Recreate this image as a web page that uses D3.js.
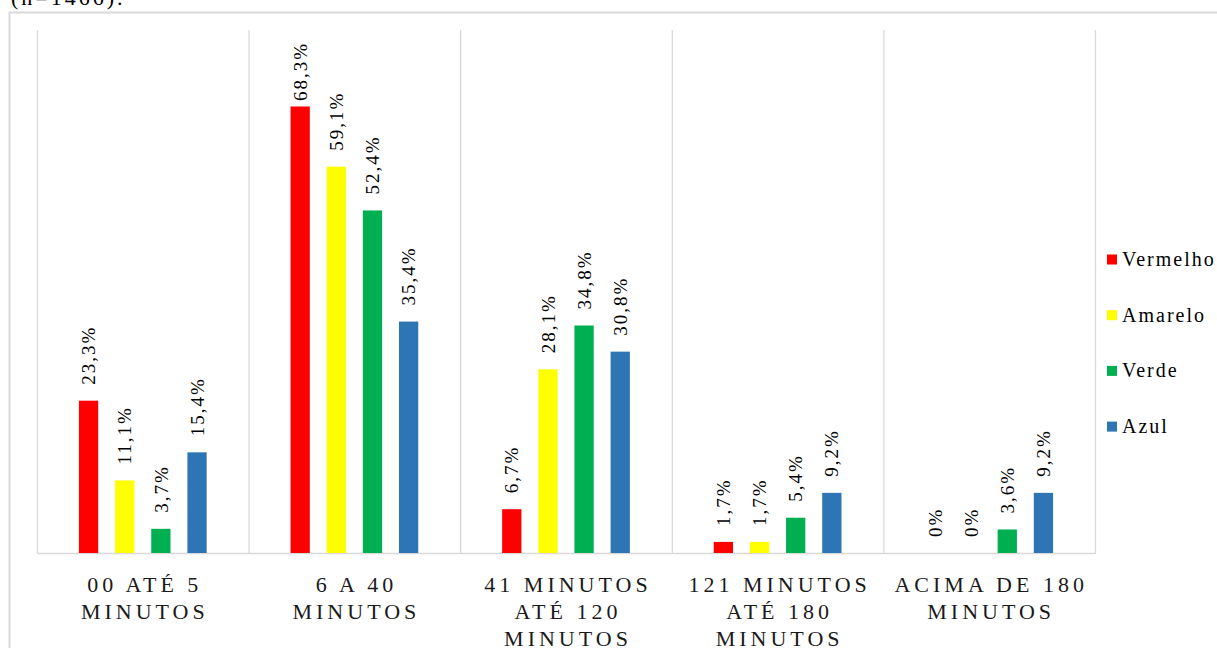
<!DOCTYPE html>
<html>
<head>
<meta charset="utf-8">
<script src="https://cdn.jsdelivr.net/npm/d3@7"></script>
<style>
  html, body { margin: 0; padding: 0; background: #fff; }
  svg { display: block; }
</style>
</head>
<body>
<svg id="chart" width="1217" height="648"></svg>
<script>
// Waiting time by risk classification (percent of patients per colour)
const categories = [
  ["00 ATÉ 5", "MINUTOS"],
  ["6 A 40", "MINUTOS"],
  ["41 MINUTOS", "ATÉ 120", "MINUTOS"],
  ["121 MINUTOS", "ATÉ 180", "MINUTOS"],
  ["ACIMA DE 180", "MINUTOS"]
];
const seriesNames = ["Vermelho", "Amarelo", "Verde", "Azul"];
const seriesColors = ["#FF0000", "#FFFF00", "#00B050", "#2E75B6"];
const vermelho = [23.3, 68.3, 6.7, 1.7, 0];
const amarelo  = [11.1, 59.1, 28.1, 1.7, 0];
const verde    = [3.7, 52.4, 34.8, 5.4, 3.6];
const azul     = [15.4, 35.4, 30.8, 9.2, 9.2];
const seriesValues = [vermelho, amarelo, verde, azul];
const yMax = 80;
const caption = "(n=1466).";

const svg = d3.select("#chart");
const plot = { left: 37, right: 1095, top: 30, bottom: 553 };
const grid = "#d9d9d9";
const FONT = "'Liberation Serif'";

// widen a text's spacing by a fixed amount between characters
function spread(sel, gap) {
  sel.each(function() {
    const n = this.textContent.length;
    const len = this.getComputedTextLength();
    d3.select(this).attr("textLength", len + gap * (n - 1)).attr("lengthAdjust", "spacing");
  });
}

// caption line above the frame (partly outside the page)
svg.append("text")
  .attr("x", 11).attr("y", 5)
  .style("font-family", FONT).style("font-size", "22px")
  .attr("fill", "#000")
  .text(caption)
  .call(spread, 3);

// outer frame
svg.append("path")
  .attr("d", d3.line()([[9.5, 648], [9.5, 12.5], [1217, 12.5]]))
  .attr("fill", "none").attr("stroke", grid).attr("stroke-width", 2);

const catKeys = categories.map((c, i) => i);
const x0 = d3.scaleBand().domain(catKeys).range([plot.left, plot.right]).padding(0);
const x1 = d3.scaleBand().domain(seriesNames).range([0, x0.bandwidth()])
  .paddingInner(0.467).paddingOuter(1.16);
const y = d3.scaleLinear().domain([0, yMax]).range([plot.bottom, plot.top]);

// category separators
const seps = catKeys.map(k => x0(k)).concat([plot.right]);
svg.append("g").selectAll("line").data(seps).join("line")
  .attr("x1", d => d + 0.5).attr("x2", d => d + 0.5)
  .attr("y1", plot.top).attr("y2", plot.bottom)
  .attr("stroke", grid).attr("stroke-width", 1.3);

// baseline
svg.append("line")
  .attr("x1", plot.left).attr("x2", plot.right + 1)
  .attr("y1", plot.bottom + 0.5).attr("y2", plot.bottom + 0.5)
  .attr("stroke", grid).attr("stroke-width", 1.5);

// bars
const bars = [];
seriesNames.forEach((s, si) => {
  seriesValues[si].forEach((v, ci) => bars.push({ s, si, ci, v }));
});

svg.append("g").selectAll("rect").data(bars).join("rect")
  .attr("x", d => x0(d.ci) + x1(d.s))
  .attr("width", x1.bandwidth())
  .attr("y", d => y(d.v))
  .attr("height", d => y(0) - y(d.v))
  .attr("fill", d => seriesColors[d.si]);

// rotated value labels
const fmt = v => (v === 0 ? "0" : d3.format(".1f")(v).replace(".", ",")) + "%";
svg.append("g").selectAll("text").data(bars).join("text")
  .style("font-family", FONT).style("font-size", "19px")
  .attr("fill", "#000")
  .attr("text-anchor", "start")
  .attr("dy", "0.35em")
  .text(d => fmt(d.v))
  .call(spread, 2)
  .each(function(d) {
    const len = +this.getAttribute("textLength");
    const cx = x0(d.ci) + x1(d.s) + x1.bandwidth() / 2;
    const start = Math.max(y(d.v) - 16, plot.top + 14 + len);
    d3.select(this).attr("transform", `translate(${cx},${start}) rotate(-90)`);
  });

// category labels
const gCat = svg.append("g");
categories.forEach((lines, ci) => {
  const cx = x0(ci) + x0.bandwidth() / 2;
  lines.forEach((ln, li) => {
    gCat.append("text")
      .attr("x", cx)
      .attr("y", 592 + li * 27)
      .attr("text-anchor", "middle")
      .style("font-family", FONT).style("font-size", "22px")
      .attr("fill", "#1a1a1a")
      .text(ln)
      .call(spread, 4);
  });
});

// legend
const gLeg = svg.append("g");
seriesNames.forEach((s, si) => {
  const yy = 254.5 + si * 55.7;
  gLeg.append("rect")
    .attr("x", 1107).attr("y", yy).attr("width", 10).attr("height", 10)
    .attr("fill", seriesColors[si]);
  gLeg.append("text")
    .attr("x", 1122).attr("y", yy + 11.5)
    .style("font-family", FONT).style("font-size", "20px")
    .attr("fill", "#000")
    .text(s)
    .call(spread, 2);
});
</script>
</body>
</html>
